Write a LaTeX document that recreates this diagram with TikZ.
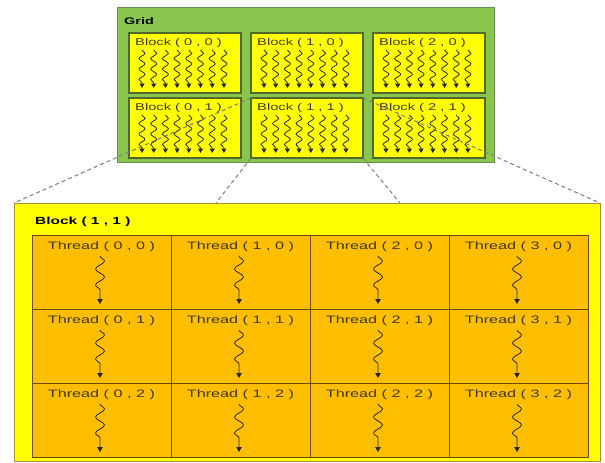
\documentclass[tikz,border=0pt]{standalone}
\usepackage{fontspec}
\newfontfamily\lsans[FakeStretch=1.5]{Liberation Sans}
\usetikzlibrary{decorations.pathmorphing,arrows.meta}
\definecolor{gridgreen}{RGB}{138,198,78}
\definecolor{gridedge}{RGB}{105,140,80}
\definecolor{blockedge}{RGB}{80,105,40}
\definecolor{blockyellow}{RGB}{255,255,0}
\definecolor{bigedge}{RGB}{170,140,60}
\definecolor{cellorange}{RGB}{255,190,0}
\definecolor{celledge}{RGB}{110,75,10}
\definecolor{txtdark}{RGB}{60,55,30}
\definecolor{zoomgray}{RGB}{125,125,125}
\begin{document}
\begin{tikzpicture}[x=1pt,y=-1pt,
  box/.style={rectangle,inner sep=0pt,outer sep=0pt,anchor=north west},
  gridbox/.style={box,fill=gridgreen,draw=gridedge,line width=1pt,minimum width=377pt,minimum height=155pt},
  blockbox/.style={box,fill=blockyellow,draw=blockedge,line width=1.2pt,minimum width=112pt,minimum height=60pt},
  bigbox/.style={box,fill=blockyellow,draw=bigedge,line width=0.8pt,minimum width=586pt,minimum height=258pt},
  cellbox/.style={box,fill=cellorange,draw=celledge,line width=0.8pt,minimum width=139pt,minimum height=74pt},
  smalllbl/.style={inner sep=0pt,anchor=west,text=txtdark,font=\lsans\fontsize{9.8}{12}\selectfont},
  threadlbl/.style={inner sep=0pt,text=txtdark,font=\lsans\fontsize{10.8}{12}\selectfont},
  titlelbl/.style={inner sep=0pt,anchor=west,text=black,font=\lsans\bfseries\fontsize{9.6}{11}\selectfont},
  smallsquig/.style={draw=black!85,line width=0.8pt,-{Triangle[width=5pt,length=4.5pt]},
    decorate,decoration={snake,amplitude=3pt,segment length=10.5pt,post length=4.5pt}},
  bigsquig/.style={draw=black!85,line width=0.8pt,-{Triangle[width=5.5pt,length=5pt]},
    decorate,decoration={snake,amplitude=4.5pt,segment length=16pt,post length=7pt}},
  zoomline/.style={draw=zoomgray,line width=1pt,dash pattern=on 4pt off 3pt}]
\useasboundingbox (0,0) rectangle (605,463);
\fill[white] (0,0) rectangle (605,463);
% Grid
\node[gridbox] (grid) at (117,7) {};
\node[titlelbl] (gridlbl) at (124,21) {Grid};
\foreach \cc in {0,1,2}{
  \foreach \rr in {0,1}{
    \pgfmathsetmacro\L{129+122*\cc}
    \pgfmathsetmacro\T{33+65*\rr}
    \node[blockbox] (b\cc\rr) at (\L,\T) {};
    \node[smalllbl] (bl\cc\rr) at (\L+6,\T+10) {Block ( \cc{} , \rr{} )};
    \foreach \k in {0,...,7}{
      \pgfmathsetmacro\X{\L+13+11.7*\k}
      \draw[smallsquig] (\X,\T+17) -- (\X,\T+55);
    }
  }
}
% zoom lines
\node[bigbox] (B) at (14,203) {};
\coordinate (zl) at (216,203);
\coordinate (zr) at (400,203);
\draw[zoomline] (b11.north west) -- (B.north west);
\draw[zoomline] (b11.north east) -- (B.north east);
\draw[zoomline] (b11.south west) -- (zl);
\draw[zoomline] (b11.south east) -- (zr);
% Big block
\node[bigbox] (B) at (14,203) {};
\node[titlelbl,font=\lsans\bfseries\fontsize{10.3}{12}\selectfont] (Blbl) at (35,222) {Block ( 1 , 1 )};
\foreach \cc in {0,1,2,3}{
  \foreach \rr in {0,1,2}{
    \pgfmathsetmacro\L{32+139*\cc}
    \pgfmathsetmacro\T{235+74*\rr}
    \node[cellbox] (t\cc\rr) at (\L,\T) {};
    \node[threadlbl] (tl\cc\rr) at (\L+69.5,\T+12) {Thread ( \cc{} , \rr{} )};
    \draw[bigsquig] (\L+68,\T+21) -- (\L+68,\T+69);
  }
}
\end{tikzpicture}
\end{document}
